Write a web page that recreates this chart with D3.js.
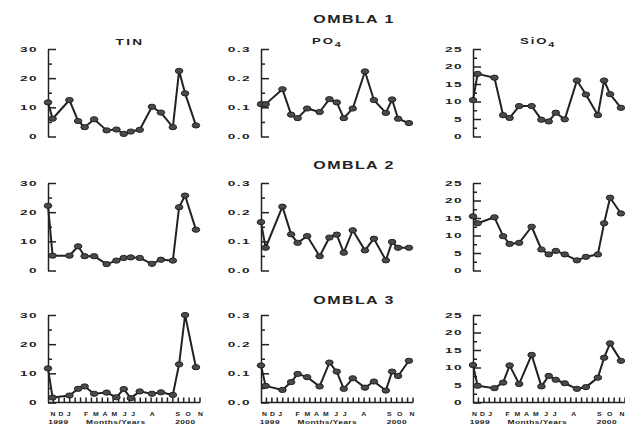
<!DOCTYPE html>
<html><head><meta charset="utf-8">
<script src="https://cdn.jsdelivr.net/npm/d3@7"></script>
<style>html,body{margin:0;padding:0;background:#fff;}svg{display:block;}</style>
</head><body>
<svg id="c" width="625" height="425"></svg>
<script>
// sampling positions (in axis tick units, Nov 1999 - Nov 2000)
const dates = [0, 0.85, 3.95, 5.55, 6.75, 8.5, 10.8, 12.6, 13.95, 15.25, 16.9, 19.15, 20.8, 23.0, 24.15, 25.25, 27.25];

const tinO1  = [11.7, 6.1, 12.5, 5.3, 3.2, 5.9, 2.1, 2.4, 0.9, 1.7, 2.3, 10.2, 8.2, 3.2, 22.5, 14.8, 3.8];
const po4O1  = [0.111, 0.111, 0.162, 0.075, 0.063, 0.096, 0.084, 0.128, 0.117, 0.063, 0.096, 0.223, 0.125, 0.081, 0.127, 0.061, 0.046];
const sio4O1 = [10.4, 17.9, 16.8, 6.1, 5.3, 8.7, 8.7, 4.8, 4.3, 6.8, 4.9, 16.0, 12.0, 6.1, 16.0, 12.1, 8.2];

const tinO2  = [22.2, 5.1, 5.1, 8.3, 4.9, 4.9, 2.2, 3.4, 4.3, 4.5, 4.3, 2.3, 3.7, 3.4, 21.7, 25.7, 14.0];
const po4O2  = [0.166, 0.078, 0.219, 0.124, 0.095, 0.118, 0.049, 0.113, 0.123, 0.061, 0.138, 0.069, 0.109, 0.035, 0.098, 0.078, 0.078];
const sio4O2 = [15.5, 13.5, 15.2, 9.8, 7.6, 7.9, 12.5, 6.0, 4.6, 5.6, 4.6, 2.9, 3.9, 4.6, 13.5, 20.8, 16.3];

const tinO3  = [11.7, 1.7, 2.4, 4.7, 5.5, 3.0, 3.4, 1.8, 4.6, 1.5, 3.8, 3.0, 3.5, 2.6, 13.1, 30.0, 12.1];
const po4O3  = [0.127, 0.057, 0.043, 0.070, 0.098, 0.087, 0.055, 0.137, 0.106, 0.047, 0.083, 0.051, 0.072, 0.041, 0.106, 0.091, 0.143];
const sio4O3 = [10.7, 4.8, 4.1, 5.7, 10.6, 5.3, 13.6, 4.6, 7.6, 6.5, 5.5, 3.9, 4.4, 7.1, 12.8, 16.9, 11.9];

const stations = ["OMBLA 1", "OMBLA 2", "OMBLA 3"];
const seriesGrid = [[tinO1, po4O1, sio4O1], [tinO2, po4O2, sio4O2], [tinO3, po4O3, sio4O3]];

const yMax = [30, 0.3, 25];
const yMajor = [[0, 10, 20, 30], [0, 0.1, 0.2, 0.3], [0, 5, 10, 15, 20, 25]];
const yMinor = [[5, 15, 25], [0.05, 0.15, 0.25], [2.5, 7.5, 12.5, 17.5, 22.5]];
const yFmt = [d3.format("d"), d3.format(".1f"), d3.format("d")];

const xTicks = d3.range(1, 29);
const monthLabels = ["N", "D", "J", "F", "M", "A", "M", "J", "J", "A", "S", "O", "N"];
const monthPos = [0.9, 2.4, 3.8, 7.0, 8.8, 10.5, 12.2, 14.1, 15.7, 19.2, 23.9, 25.8, 28.1];
const yearLabels = ["1999", "Months/Years", "2000"];
const yearPos = [1.9, 12.5, 25.3];

// layout
const colX = [48, 261, 473];
const labelShift = [0, -1.5, -3.5];
const rowTop = [49, 183, 315];
const plotH = 87.5;
const plotW = 152;
const ink = "#222";

const svg = d3.select("#c");
const font = "'Liberation Sans', Arial, sans-serif";

function txt(g, x, y, s, size, sx, anchor, ls) {
  return g.append("text")
    .attr("transform", `translate(${x},${y}) scale(${sx},1)`)
    .attr("text-anchor", anchor)
    .attr("font-family", font)
    .attr("font-weight", "bold")
    .attr("font-size", size)
    .attr("letter-spacing", ls)
    .attr("fill", ink)
    .text(s);
}

const x = d3.scaleLinear().domain([0, 28]);

for (let r = 0; r < 3; r++) {
  for (let c = 0; c < 3; c++) {
    const xs = x.copy().range([colX[c], colX[c] + plotW]);
    const ys = d3.scaleLinear().domain([0, yMax[c]]).range([rowTop[r] + plotH, rowTop[r]]);
    const g = svg.append("g");

    // y axis (ticks point inward)
    const ax = g.append("g").attr("transform", `translate(${colX[c]},0)`)
      .call(d3.axisLeft(ys).tickValues(yMajor[c]).tickSizeInner(-8).tickSizeOuter(0).tickFormat(""));
    ax.append("g").call(d3.axisLeft(ys).tickValues(yMinor[c]).tickSizeInner(-4).tickSizeOuter(0).tickFormat(""))
      .select(".domain").remove();
    ax.selectAll("path,line").attr("stroke", ink).attr("stroke-width", 1.5);

    yMajor[c].forEach(v => {
      txt(g, colX[c] - 10, ys(v) + 2.7, yFmt[c](v), 7.8, 1.75, "end", 0.8);
    });

    // x axis only on bottom row
    if (r === 2) {
      const y0 = ys(0);
      g.append("line").attr("x1", xs(0)).attr("x2", xs(28)).attr("y1", y0).attr("y2", y0)
        .attr("stroke", ink).attr("stroke-width", 1.5);
      g.selectAll("line.xt").data(xTicks).join("line").attr("class", "xt")
        .attr("x1", d => xs(d)).attr("x2", d => xs(d))
        .attr("y1", y0).attr("y2", y0 - 5)
        .attr("stroke", ink).attr("stroke-width", 1.5);
      monthLabels.forEach((m, i) => txt(g, xs(monthPos[i]) + labelShift[c], 416, m, 6.2, 1.1, "middle", 0));
      yearLabels.forEach((m, i) => txt(g, xs(yearPos[i]) + labelShift[c], 424, m, 6, 1.4, "middle", 0.3));
    }

    // data line and markers
    const vals = seriesGrid[r][c];
    const pts = vals.map((v, i) => [dates[i], v]);
    g.append("path").datum(pts)
      .attr("fill", "none").attr("stroke", ink).attr("stroke-width", 2)
      .attr("stroke-linejoin", "round")
      .attr("d", d3.line().x(d => xs(d[0])).y(d => ys(d[1])));
    g.selectAll("ellipse").data(pts).join("ellipse")
      .attr("cx", d => xs(d[0])).attr("cy", d => ys(d[1]))
      .attr("rx", 3.8).attr("ry", 2.6)
      .attr("fill", "#4a4a4a").attr("stroke", ink).attr("stroke-width", 1);
  }
}

// station titles
const titleY = [22.5, 169, 304];
stations.forEach((s, i) => txt(svg, 354, titleY[i], s, 10, 1.6, "middle", 0.9));

// variable titles (top row)
txt(svg, 130, 45, "TIN", 8.5, 1.6, "middle", 1.5);
const po = txt(svg, 312, 44, "", 8.5, 1.55, "start", 1.2);
po.append("tspan").text("PO");
po.append("tspan").attr("font-size", 7).attr("dy", 2.5).text("4");
const si = txt(svg, 520, 44, "", 8.5, 1.55, "start", 1.2);
si.append("tspan").text("SiO");
si.append("tspan").attr("font-size", 7).attr("dy", 2.5).text("4");
</script>
</body></html>
